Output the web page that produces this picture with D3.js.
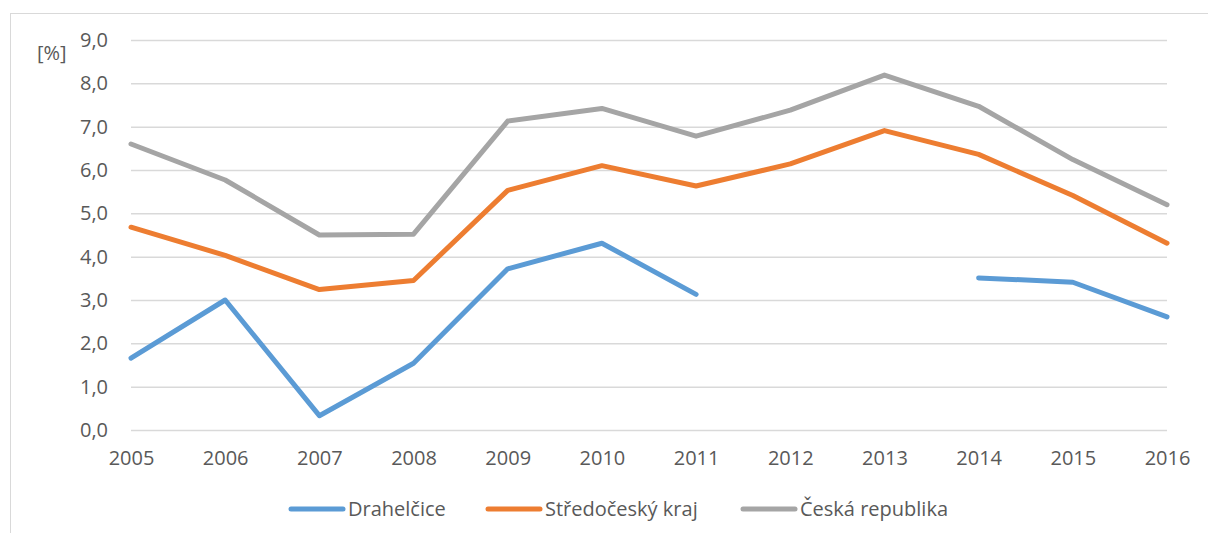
<!DOCTYPE html>
<html>
<head>
<meta charset="utf-8">
<script src="https://cdn.jsdelivr.net/npm/d3@7"></script>
<style>
  body { margin: 0; background: #fff; }
  svg { display: block; font-family: "Open Sans", sans-serif; }
</style>
</head>
<body>
<svg></svg>
<script>
let years = ["2005","2006","2007","2008","2009","2010","2011","2012","2013","2014","2015","2016"];
let drahelcice = [1.66, 3.0, 0.33, 1.54, 3.72, 4.31, 3.13, null, null, 3.51, 3.41, 2.61];
let stredocesky = [4.68, 4.03, 3.24, 3.45, 5.53, 6.1, 5.63, 6.14, 6.91, 6.36, 5.41, 4.31];
let ceska = [6.6, 5.77, 4.5, 4.52, 7.13, 7.42, 6.78, 7.38, 8.19, 7.47, 6.24, 5.2];
let seriesNames = ["Drahelčice", "Středočeský kraj", "Česká republika"];
let colors = ["#5B9BD5", "#ED7D31", "#A5A5A5"];
let yTicks = [0, 1, 2, 3, 4, 5, 6, 7, 8, 9];

let width = 1208;
let height = 533;
let plotLeft = 131, plotRight = 1167, plotTop = 40, plotBottom = 430;
let fontSize = "20px";

let svg = d3.select("svg").attr("width", width).attr("height", height);

// chart frame
svg.append("rect")
  .attr("x", 10.5).attr("y", 13.5)
  .attr("width", 1300).attr("height", 600)
  .attr("fill", "none").attr("stroke", "#D9D9D9").attr("stroke-width", 1);

let xScale = d3.scalePoint().domain(years).range([plotLeft, plotRight]);
let yScale = d3.scaleLinear().domain([0, 9]).range([plotBottom, plotTop]);

// gridlines
svg.append("g")
  .attr("transform", "translate(" + plotLeft + ",0)")
  .call(d3.axisLeft(yScale).tickValues(yTicks).tickSize(-(plotRight - plotLeft)).tickFormat(""))
  .call(g => g.select(".domain").remove())
  .call(g => g.selectAll("line").attr("stroke", "#D9D9D9").attr("stroke-width", 1.5));

// y labels
svg.append("g")
  .attr("transform", "translate(" + 108 + ",0)")
  .call(d3.axisLeft(yScale).tickValues(yTicks).tickSize(0).tickPadding(0)
    .tickFormat(d => d3.format(".1f")(d).replace(".", ",")))
  .call(g => g.select(".domain").remove())
  .call(g => g.selectAll("text").attr("fill", "#595959").style("font-size", fontSize)
    .style("font-family", "'Open Sans', sans-serif"));

// x labels
svg.append("g")
  .attr("transform", "translate(0," + plotBottom + ")")
  .call(d3.axisBottom(xScale).tickSize(0).tickPadding(21))
  .call(g => g.select(".domain").remove())
  .call(g => g.selectAll("text").attr("fill", "#595959").style("font-size", fontSize)
    .style("font-family", "'Open Sans', sans-serif"));

svg.append("text")
  .attr("x", 37).attr("y", 60)
  .attr("fill", "#595959").style("font-size", fontSize)
  .text("[%]");

let line = d3.line()
  .defined(d => d[1] != null)
  .x(d => xScale(d[0]))
  .y(d => yScale(d[1]));

[drahelcice, stredocesky, ceska].forEach((vals, i) => {
  svg.append("path")
    .datum(years.map((y, j) => [y, vals[j]]))
    .attr("d", line)
    .attr("fill", "none")
    .attr("stroke", colors[i])
    .attr("stroke-width", 5)
    .attr("stroke-linejoin", "round")
    .attr("stroke-linecap", "round");
});

// legend
let legendX = [291, 488, 743];
let legend = svg.append("g");
seriesNames.forEach((name, i) => {
  legend.append("line")
    .attr("x1", legendX[i]).attr("x2", legendX[i] + 52)
    .attr("y1", 509).attr("y2", 509)
    .attr("stroke", colors[i]).attr("stroke-width", 5)
    .attr("stroke-linecap", "round");
  legend.append("text")
    .attr("x", legendX[i] + 57).attr("y", 516)
    .attr("fill", "#595959").style("font-size", fontSize)
    .text(name);
});
</script>
</body>
</html>
